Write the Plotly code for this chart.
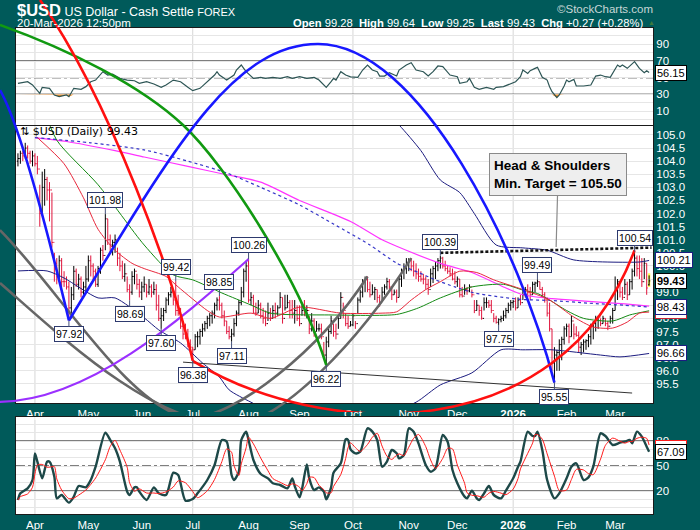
import pandas as pd
import plotly.graph_objects as go

# ---- data --------------------------------------------------------------
dates = pd.bdate_range("2025-03-21", "2026-03-20")
bars = list(range(len(dates)))

first_open = 104.0
last_open = 99.28

high = [
    104.3, 104.4, 104.4, 104.7, 104.6, 104.4, 104.4, 104.3, 104.2, 103.1,
    103.6, 103.7, 103.4, 103.2, 102.8, 100.5, 100.3, 100.4, 100.3, 99.8,
    99.6, 99.4, 99.2, 100.0, 99.9, 99.7, 99.6, 99.4, 100.0, 100.4,
    100.4, 100.1, 99.9, 100.0, 100.7, 100.8, 101.98, 101.8, 101.2, 101.0,
    101.2, 100.7, 100.5, 100.2, 100.1, 99.6, 99.3, 99.8, 99.9, 99.7,
    99.5, 99.4, 99.6, 99.3, 99.5, 99.3, 99.4, 99.3, 98.9, 98.4,
    98.4, 98.8, 99.0, 99.2, 99.1, 99.42, 98.9, 98.4, 97.9, 97.8,
    97.6, 97.2, 96.9, 97.4, 97.5, 97.6, 97.8, 97.9, 98.1, 98.2,
    98.3, 98.6, 98.8, 98.85, 98.6, 98.3, 97.9, 97.7, 97.6, 98.0,
    98.3, 98.7, 99.2, 99.9, 100.2, 100.26, 99.0, 98.9, 98.6, 98.7,
    98.6, 98.4, 98.3, 98.6, 98.4, 98.5, 98.6, 98.5, 99.0, 98.8,
    98.9, 98.9, 98.7, 98.7, 98.7, 98.5, 98.5, 98.5, 98.7, 98.5,
    98.1, 98.2, 98.0, 97.9, 97.8, 97.8, 97.1, 97.3, 97.7, 98.1,
    97.8, 97.8, 98.1, 99.0, 98.6, 98.2, 98.1, 97.9, 98.2, 97.9,
    98.8, 99.1, 99.5, 99.6, 99.6, 99.4, 99.3, 99.2, 99.1, 98.9,
    99.2, 99.3, 99.55, 99.5, 99.2, 99.1, 99.1, 99.6, 99.9, 100.1,
    100.3, 100.3, 100.3, 100.2, 100.1, 99.9, 99.8, 99.7, 99.6, 99.5,
    99.9, 100.0, 100.15, 100.3, 100.39, 100.35, 100.2, 100.0, 99.95, 99.9,
    99.8, 99.6, 99.5, 99.2, 99.3, 99.2, 99.3, 99.1, 98.7, 98.7,
    98.5, 98.45, 98.8, 98.8, 98.7, 98.7, 98.2, 98.1, 98.0, 98.1,
    98.3, 98.4, 98.6, 98.7, 98.7, 98.8, 98.8, 98.9, 99.1, 99.2,
    99.3, 99.2, 99.4, 99.4, 99.49, 99.4, 99.2, 99.0, 98.8, 98.6,
    97.6, 96.9, 96.8, 97.2, 97.3, 97.7, 97.8, 97.8, 98.1, 97.8,
    97.7, 97.5, 97.1, 97.2, 97.2, 97.4, 97.8, 97.9, 98.1, 98.1,
    98.0, 98.1, 98.0, 97.9, 98.1, 98.4, 99.6, 99.5, 99.3, 99.2,
    99.5, 99.4, 99.5, 99.9, 100.54, 100.4, 100.4, 100.3, 100.3, 100.1, 99.64,
]
low = [
    103.8, 103.9, 104.0, 104.1, 104.1, 103.9, 103.8, 103.8, 103.5, 101.5,
    102.0, 102.3, 102.5, 101.7, 100.7, 99.4, 99.3, 99.5, 99.2, 99.2,
    99.1, 97.92, 98.0, 98.7, 99.2, 99.1, 98.8, 98.9, 99.0, 99.4,
    99.6, 99.4, 99.2, 99.2, 99.7, 100.2, 100.6, 100.8, 100.5, 100.4,
    100.5, 100.0, 99.8, 99.5, 99.4, 99.0, 98.69, 98.9, 99.3, 99.1,
    98.8, 98.7, 99.0, 98.8, 98.9, 98.8, 98.9, 98.3, 97.9, 97.6,
    97.9, 98.2, 98.5, 98.8, 98.5, 98.1, 98.1, 97.6, 97.2, 97.2,
    96.9, 96.7, 96.38, 96.8, 96.9, 97.0, 97.3, 97.5, 97.6, 97.7,
    97.8, 98.0, 98.3, 98.3, 98.0, 97.7, 97.4, 97.2, 97.11, 97.3,
    97.7, 98.1, 98.5, 98.8, 99.4, 98.6, 98.5, 98.2, 98.1, 98.2,
    98.0, 97.8, 97.7, 97.9, 97.9, 98.0, 98.0, 98.1, 98.4, 97.8,
    98.3, 98.4, 98.0, 98.0, 97.8, 97.9, 97.7, 98.1, 98.1, 98.0,
    97.4, 97.5, 97.3, 97.5, 97.5, 97.2, 96.5, 96.22, 96.9, 97.4,
    97.3, 97.2, 97.6, 98.0, 98.0, 97.7, 97.6, 97.7, 97.7, 97.6,
    98.2, 98.6, 98.8, 99.0, 99.0, 98.8, 98.9, 98.7, 98.6, 98.45,
    98.7, 98.9, 99.1, 99.1, 98.7, 98.9, 98.6, 98.8, 99.2, 99.5,
    99.7, 99.8, 99.8, 99.6, 99.5, 99.4, 99.4, 99.3, 99.1, 98.9,
    99.2, 99.35, 99.5, 99.8, 99.9, 99.9, 99.8, 99.7, 99.6, 99.45,
    99.3, 99.2, 98.8, 98.8, 98.9, 98.9, 99.0, 98.8, 98.2, 98.3,
    98.1, 97.95, 98.3, 98.4, 98.4, 98.2, 97.85, 97.8, 97.75, 97.85,
    97.9, 98.0, 98.2, 98.3, 98.4, 98.3, 98.4, 98.5, 98.7, 98.8,
    98.8, 98.7, 98.9, 99.0, 99.2, 99.1, 98.8, 98.6, 98.07, 97.5,
    96.0, 95.55, 96.0, 96.0, 96.4, 97.0, 97.3, 97.05, 97.3, 97.2,
    97.3, 96.7, 96.6, 96.7, 96.8, 96.9, 97.0, 97.2, 97.5, 97.6,
    97.7, 97.8, 97.7, 97.55, 97.8, 97.8, 98.3, 98.7, 98.8, 98.7,
    98.9, 98.7, 98.9, 99.1, 99.6, 99.6, 99.5, 99.2, 99.5, 98.9, 99.25,
]
close = [
    104.1, 104.3, 104.2, 104.5, 104.3, 104.0, 104.2, 103.9, 103.7, 102.0,
    103.0, 103.3, 102.9, 102.9, 100.9, 100.1, 99.6, 100.2, 99.4, 99.4,
    99.2, 98.4, 98.9, 99.8, 99.3, 99.5, 99.0, 99.2, 99.5, 100.2,
    100.0, 99.8, 99.3, 99.9, 100.6, 100.4, 101.8, 101.0, 100.8, 100.9,
    101.0, 100.3, 100.0, 99.6, 99.7, 99.1, 99.0, 99.6, 99.8, 99.3,
    99.0, 99.2, 99.3, 99.0, 99.2, 99.0, 99.1, 98.5, 98.0, 98.1,
    98.3, 98.7, 98.9, 99.0, 98.7, 98.3, 98.2, 97.7, 97.4, 97.4,
    97.0, 96.9, 96.8, 97.3, 97.3, 97.5, 97.6, 97.8, 98.0, 98.1,
    98.2, 98.5, 98.7, 98.5, 98.1, 97.9, 97.5, 97.3, 97.4, 97.8,
    98.2, 98.6, 99.0, 99.8, 100.0, 98.7, 98.8, 98.2, 98.2, 98.5,
    98.1, 98.0, 97.8, 98.2, 98.0, 98.3, 98.2, 98.4, 98.8, 98.0,
    98.4, 98.6, 98.3, 98.2, 98.3, 98.0, 97.8, 98.3, 98.1, 98.3,
    97.6, 97.9, 97.5, 97.6, 97.6, 97.3, 96.6, 97.1, 97.5, 97.9,
    97.5, 97.4, 98.0, 98.8, 98.3, 97.8, 97.7, 97.75, 98.1, 97.8,
    98.7, 99.0, 99.4, 99.5, 99.1, 98.9, 99.0, 99.1, 98.8, 98.6,
    99.0, 99.2, 99.4, 99.2, 98.9, 99.0, 98.8, 99.5, 99.8, 99.9,
    100.1, 100.2, 100.0, 99.8, 99.7, 99.6, 99.5, 99.5, 99.3, 99.1,
    99.7, 99.9, 100.0, 100.2, 100.3, 100.0, 99.9, 99.8, 99.7, 99.5,
    99.4, 99.5, 98.9, 98.85, 99.1, 99.05, 99.2, 98.9, 98.3, 98.5,
    98.3, 98.0, 98.6, 98.6, 98.5, 98.3, 98.0, 97.85, 97.95, 98.0,
    98.1, 98.3, 98.5, 98.6, 98.65, 98.4, 98.7, 98.6, 98.9, 99.1,
    99.0, 98.9, 99.3, 99.35, 99.4, 99.1, 98.9, 98.7, 98.2, 97.6,
    96.3, 96.6, 96.7, 97.0, 97.2, 97.6, 97.7, 97.3, 97.9, 97.4,
    97.35, 96.9, 97.0, 97.1, 97.15, 97.3, 97.7, 97.8, 98.0, 98.05,
    97.8, 98.0, 97.8, 97.7, 98.0, 98.3, 99.1, 99.4, 99.0, 98.8,
    99.3, 98.9, 99.4, 99.8, 100.3, 99.9, 99.8, 99.4, 100.1, 99.16, 99.43,
]

# overlays sampled off the chart (bar index -> value)
ma20_idx = [8, 19, 27, 33, 40, 47, 52, 61, 66, 78, 83, 96, 104, 116, 133, 150, 156, 162,
            168, 174, 182, 189, 196, 208, 219, 229, 237, 245, 251, 256, 260]
ma20_val = [104.9, 103.9, 102.6, 101.4, 100.6, 100.1, 99.9, 99.6, 99.2, 98.3, 98.05, 98.2,
            98.0, 98.43, 98.2, 98.2, 98.25, 98.7, 99.1, 99.4, 99.8, 99.75, 99.47, 99.1,
            98.7, 98.05, 97.67, 97.63, 97.86, 98.2, 98.24]
ma50_idx = [10, 16, 33, 52, 64, 72, 84, 96, 104, 129, 156, 165, 174, 187, 200, 208, 214,
            219, 226, 233, 245, 252, 260]
ma50_val = [106.2, 104.8, 103.1, 100.8, 99.66, 99.47, 98.97, 98.51, 98.2, 98.13, 98.15,
            98.4, 98.78, 99.2, 99.3, 99.08, 98.95, 98.7, 98.3, 98.0, 97.9, 98.13, 98.29]
ma150_idx = [7, 30, 52, 70, 86, 100, 116, 130, 145, 156, 165, 172, 180, 188, 200, 208,
             220, 235, 250, 260]
ma150_val = [104.9, 104.7, 104.43, 104.0, 103.55, 103.0, 102.33, 101.6, 100.8, 100.11,
             99.75, 99.47, 99.2, 98.97, 98.8, 98.72, 98.68, 98.58, 98.5, 98.43]
ma200_idx = [7, 20, 40, 52, 70, 85, 100, 116, 137, 150, 156, 174, 187, 200, 208, 220,
             235, 250, 260]
ma200_val = [104.9, 104.75, 104.4, 104.16, 103.8, 103.5, 103.2, 102.5, 101.7, 101.0,
             100.75, 100.1, 99.75, 99.2, 98.9, 98.75, 98.65, 98.55, 98.47]
band_lo_idx = [0, 12, 19, 33, 40, 52, 58, 67, 76, 83, 87, 96, 110, 130, 150, 164, 174,
               187, 199, 208, 220, 240, 248, 260]
band_lo_val = [99.81, 99.81, 99.54, 98.78, 98.78, 98.02, 97.56, 97.06, 96.3, 95.76,
               95.27, 94.8, 94.2, 94.0, 94.3, 94.8, 95.46, 95.92, 96.8, 96.8, 96.8,
               96.6, 96.53, 96.66]
band_hi_idx = [140, 150, 157, 166, 174, 182, 188, 197, 208, 218, 229, 256, 260]
band_hi_val = [106.8, 106.0, 105.38, 104.4, 103.28, 102.8, 102.0, 100.8, 100.69, 100.6,
               100.23, 100.15, 100.21]

trend_idx = [68, 253]
trend_val = [96.33, 95.15]
neck_idx = [174, 261]
neck_val = [100.5, 100.7]

peak_idx = [36, 21, 46, 59, 65, 83, 95, 88, 72, 127, 174, 198, 214, 221, 254]
peak_val = [101.98, 97.92, 98.69, 97.60, 99.42, 98.85, 100.26, 97.11, 96.38, 96.22,
            100.39, 97.75, 99.49, 95.55, 100.54]
peak_up = [True, False, False, False, True, True, True, False, False, False,
           True, False, True, False, True]

rsi_idx = [0, 4, 6, 9, 10, 13, 15, 17, 20, 21, 23, 26, 28, 30, 32, 34, 35, 37, 39, 42,
           45, 48, 50, 53, 56, 59, 61, 64, 67, 70, 72, 75, 78, 81, 82, 83, 86, 89, 90, 92,
           93, 94, 97, 100, 102, 105, 108, 111, 113, 116, 119, 122, 124, 127, 129, 130,
           131, 133, 135, 137, 140, 142, 144, 146, 148, 149, 151, 153, 156, 157, 160, 162,
           164, 167, 169, 171, 173, 175, 178, 181, 182, 185, 186, 188, 190, 193, 196, 197,
           200, 203, 205, 207, 208, 210, 211, 213, 214, 216, 218, 219, 220, 222, 223, 225,
           226, 227, 229, 230, 233, 236, 238, 240, 242, 244, 245, 247, 248, 249, 251, 252,
           254, 256, 258, 259, 260]
rsi_val = [43.3, 45.2, 41.3, 31.3, 38.5, 37.3, 29.3, 27.3, 29.3, 27.3, 37.3, 36.1, 39.3,
           45.2, 47.2, 53.2, 57.2, 53.2, 54.4, 49.2, 47.2, 46.4, 43.3, 45.2, 42.5, 38.5,
           41.3, 47.2, 45.2, 38.5, 34.5, 37.3, 45.2, 53.2, 57.2, 53.2, 47.2, 53.2, 59.2,
           65.2, 61.2, 57.2, 49.2, 50.4, 49.2, 50.4, 49.2, 51.2, 49.2, 51.2, 49.2, 50.4,
           47.2, 38.5, 45.2, 49.2, 47.2, 57.2, 53.2, 51.0, 50.4, 59.2, 65.2, 59.2, 57.2,
           52.0, 52.0, 56.0, 52.0, 59.2, 65.2, 68.0, 59.2, 57.2, 52.0, 57.2, 64.0, 63.2,
           53.2, 51.2, 43.3, 45.2, 49.2, 38.5, 36.1, 38.5, 36.1, 38.5, 39.3, 43.3, 45.2,
           51.2, 59.2, 55.2, 58.4, 61.2, 62.4, 50.4, 47.2, 39.3, 33.3, 26.1, 29.3, 40.1,
           47.2, 45.2, 48.0, 40.1, 40.1, 41.3, 52.0, 53.2, 51.2, 50.4, 55.2, 65.2, 63.2,
           65.2, 61.2, 64.0, 69.2, 61.2, 56.0, 58.4, 56.15]

stk_idx = [0, 1, 4, 6, 7, 8, 10, 12, 13, 15, 16, 18, 21, 23, 25, 28, 30, 32, 36, 38, 40,
           42, 45, 46, 48, 49, 50, 53, 56, 58, 61, 64, 66, 69, 72, 74, 78, 81, 84, 86, 88,
           89, 91, 92, 94, 95, 97, 100, 103, 105, 108, 111, 113, 114, 116, 117, 119, 120,
           122, 124, 126, 127, 129, 130, 133, 135, 136, 137, 139, 141, 144, 146, 148, 150,
           152, 154, 156, 157, 159, 161, 163, 165, 168, 170, 172, 175, 177, 179, 181, 184,
           185, 187, 189, 190, 192, 194, 196, 199, 201, 204, 206, 207, 210, 212, 213, 214,
           216, 218, 221, 223, 226, 228, 230, 233, 235, 237, 240, 242, 245, 248, 250, 252,
           253, 255, 257, 259, 260]
stk_val = [9.2, 17.2, 23.2, 33.2, 65.2, 55.2, 35.2, 55.2, 55.2, 37.2, 11.2, 15.2, 6.0,
           13.2, 26.0, 24.4, 33.2, 49.2, 90.0, 81.2, 71.2, 55.2, 19.2, 15.2, 24.4, 24.4,
           19.2, 9.2, 24.4, 17.2, 15.2, 42.0, 39.2, 8.4, 10.4, 17.2, 33.2, 51.2, 81.2,
           79.2, 39.2, 33.2, 43.2, 81.2, 91.2, 81.2, 57.2, 40.4, 35.2, 29.2, 27.2, 23.2,
           35.2, 26.0, 12.4, 22.0, 52.0, 35.2, 21.2, 24.4, 19.2, 10.0, 24.4, 42.0, 53.2,
           82.0, 81.2, 70.0, 65.2, 67.2, 95.2, 91.2, 81.2, 49.2, 55.2, 69.2, 65.2, 59.2,
           63.2, 95.2, 91.2, 77.2, 51.2, 43.2, 47.2, 87.2, 79.2, 45.2, 29.2, 13.2, 11.2,
           20.4, 11.2, 9.2, 17.2, 26.0, 15.2, 11.2, 20.4, 35.2, 49.2, 55.2, 91.2, 86.0,
           86.0, 91.2, 69.2, 33.2, 11.2, 17.2, 35.2, 49.2, 53.2, 33.2, 36.4, 49.2, 89.2,
           86.0, 75.2, 78.0, 79.2, 81.2, 77.2, 91.2, 85.2, 73.2, 67.09]

# hand-drawn arcs on the chart, cubic bezier control points in (bar, price)
arc_red_a = [(9.1, 110.15), (37.9, 106.33), (64.7, 99.46), (72, 96.38)]
arc_red_b = [(72, 96.38), (124.4, 93.36), (223.3, 92.97), (254, 100.6)]
arc_blue_a = [(-7.4, 106.71), (0.8, 105.38), (11.1, 101.75), (21, 97.92)]
arc_blue_b = [(21, 97.92), (62.2, 104.16), (87.4, 108.47), (123.6, 108.47),
              (165.6, 108.47), (206.8, 100.61), (221, 95.55)]
arc_green = [(-7.4, 109.2), (21.4, 108.24), (50.3, 106.91), (68.0, 105.38),
             (85.7, 103.85), (116.2, 99.46), (127, 96.22)]
arc_purple = [(-7.4, 94.81), (29.7, 94.88), (66.7, 97.94), (95, 100.26)]
arc_gray_a = [(-7.4, 101.37), (17.3, 99.08), (46.1, 94.5), (70.9, 94.2),
              (89.4, 94.2), (124.4, 96.79), (144, 99.6)]
arc_gray_b = [(-7.4, 99.35), (17.3, 97.36), (54.4, 94.04), (87.4, 93.93),
              (108.0, 93.93), (140.9, 97.17), (162, 100.3)]

price_ticks = [95.5, 96.0, 96.5, 97.0, 97.5, 98.0, 98.5, 99.0, 99.5, 100.0, 100.5,
               101.0, 101.5, 102.0, 102.5, 103.0, 103.5, 104.0, 104.5, 105.0]
osc_ticks = [0, 10, 20, 30, 40, 50, 60, 70, 80, 90, 100]
rsi_text = ["", "10", "", "30", "", "50", "", "70", "", "90", ""]
stk_text = ["", "", "20", "", "", "50", "", "", "80", "", ""]

# ---- geometry (pixels) -------------------------------------------------
W, H = 700, 530
LEFT, RIGHT = 16, 653
RSI_TOP, RSI_BOT = 28, 125
PR_TOP, PR_BOT = 125, 403
ST_TOP, ST_BOT = 417, 514
DRAW_BOT = 412
TEAL = "#005a5a"
FONT = "Liberation Sans, Arial, sans-serif"

XR = [-0.8, 261.6]
PR = [94.77, 105.38]
RSI_R = [-6.6, 109.5]
ST_R = [-7.6, 108.8]


def ydom(top, bot):
    return [1 - bot / H, 1 - top / H]


xdom = [LEFT / W, RIGHT / W]
ppx = (RIGHT - LEFT) / (XR[1] - XR[0])
ppy = (PR_BOT - PR_TOP) / (PR[1] - PR[0])
OX = [XR[0] - LEFT / ppx, XR[1] + (W - RIGHT) / ppx]
OY = [PR[0] - (DRAW_BOT - PR_BOT) / ppy, PR[1] + PR_TOP / ppy]

opens = [first_open] + close[:-1]
opens[-1] = last_open

month_pos = [i for i in range(1, len(dates)) if dates[i].month != dates[i - 1].month]
month_txt = ["<b>%d</b>" % dates[i].year if dates[i].month == 1 else dates[i].strftime("%b")
             for i in month_pos]
quarter_pos = [i for i in month_pos if dates[i].month in (1, 4, 7, 10)]

fig = go.Figure()

fig.add_trace(go.Ohlc(
    x=bars, open=opens, high=high, low=low, close=close,
    increasing_line_color="black", decreasing_line_color="#e0143c",
    line_width=1, tickwidth=0.45, xaxis="x", yaxis="y", hoverinfo="skip",
))


def line(x, y, color, width, dash="solid", axes=("x", "y"), shape="spline"):
    fig.add_trace(go.Scatter(
        x=x, y=y, mode="lines", xaxis=axes[0], yaxis=axes[1], hoverinfo="skip",
        line=dict(color=color, width=width, dash=dash, shape=shape, smoothing=0.7),
    ))


line(band_lo_idx, band_lo_val, "#1c1c80", 1)
line(band_hi_idx, band_hi_val, "#1c1c80", 1)
line(ma200_idx, ma200_val, "#ff33ff", 1.2)
line(ma150_idx, ma150_val, "#3535c8", 1.2, dash="dot")
line(ma50_idx, ma50_val, "#138a13", 1)
line(ma20_idx, ma20_val, "#e8283c", 1)
line(trend_idx, trend_val, "#333333", 1, shape="linear")
line(neck_idx, neck_val, "#111111", 2.6, dash="3px,2px", shape="linear")

# RSI with oversold shading
rsi_floor = [30 for _ in rsi_idx]
rsi_low = [min(v, 30) for v in rsi_val]
fig.add_trace(go.Scatter(x=rsi_idx, y=rsi_floor, mode="lines", line=dict(width=0),
                         xaxis="x2", yaxis="y2", hoverinfo="skip"))
fig.add_trace(go.Scatter(x=rsi_idx, y=rsi_low, mode="lines", line=dict(width=0),
                         fill="tonexty", fillcolor="#f0902a", xaxis="x2", yaxis="y2",
                         hoverinfo="skip"))
line(rsi_idx, rsi_val, "#2d5555", 1.2, axes=("x2", "y2"), shape="linear")

# slow stochastics, %D is the 3-sample average of %K
stk_d = pd.Series(stk_val).rolling(3, min_periods=1).mean().tolist()
line(stk_idx, stk_val, "#1d4848", 2.4, axes=("x3", "y3"), shape="spline")
line(stk_idx, stk_d, "#ff1a1a", 1, axes=("x3", "y3"), shape="spline")

fig.add_trace(go.Scatter(x=[], y=[], xaxis="x4", yaxis="y4"))

shapes = []
for xa, ya in (("x", "y"), ("x2", "y2"), ("x3", "y3")):
    shapes.append(dict(type="rect", xref=xa + " domain", yref=ya + " domain",
                       x0=0, x1=1, y0=0, y1=1, fillcolor="white", line_width=0,
                       layer="below"))
    for q in quarter_pos:
        shapes.append(dict(type="line", xref=xa, yref=ya + " domain", x0=q, x1=q,
                           y0=0, y1=1, line=dict(color="#d6d6d6", width=1), layer="below"))

for ya, lv in (("y2", (70, 30)), ("y3", (80, 20))):
    for v in lv:
        shapes.append(dict(type="line", xref=ya.replace("y", "x") + " domain", yref=ya,
                           x0=0, x1=1, y0=v, y1=v, line=dict(color="black", width=1.2),
                           layer="below"))
    shapes.append(dict(type="line", xref=ya.replace("y", "x") + " domain", yref=ya,
                       x0=0, x1=1, y0=50, y1=50,
                       line=dict(color="black", width=1.2, dash="dashdot"), layer="below"))

shapes.append(dict(type="rect", xref="x", yref="y", x0=bars[-1] - 0.5, x1=bars[-1] + 0.5,
                   y0=low[-1] - 0.05, y1=high[-1] + 0.08, fillcolor="#ffff55",
                   line_width=0, layer="below"))


def bezier(points):
    d = "M %.2f,%.3f" % points[0]
    for k in range(1, len(points), 3):
        d += " C " + " ".join("%.2f,%.3f" % p for p in points[k:k + 3])
    return d


for pts, col, wd in ((arc_gray_a, "#666666", 2.6), (arc_gray_b, "#666666", 2.6),
                     (arc_purple, "#9b30ff", 2.2), (arc_green, "#119911", 2.6),
                     (arc_blue_a, "#1818ff", 2.6), (arc_blue_b, "#1818ff", 2.6),
                     (arc_red_a, "#ff1010", 2.6), (arc_red_b, "#ff1010", 2.6)):
    shapes.append(dict(type="path", xref="x4", yref="y4", path=bezier(pts),
                       line=dict(color=col, width=wd), layer="above"))

ann = []
for i, v, up in zip(peak_idx, peak_val, peak_up):
    ann.append(dict(x=i, y=v, xref="x", yref="y", text="%.2f" % v, showarrow=True,
                    arrowhead=0, arrowwidth=1, arrowcolor="#44507a", ax=0,
                    ay=-14 if up else 14, bgcolor="white", bordercolor="#2e3a6e",
                    borderwidth=1, borderpad=1,
                    font=dict(family=FONT, size=10.5, color="black")))

ann.append(dict(x=neck_idx[0] + 47.7, y=100.72, xref="x", yref="y",
                ax=222.5, ay=103.5, axref="x", ayref="y", showarrow=True,
                arrowhead=0, arrowwidth=1.2, arrowcolor="#8a8a8a",
                text="<b>Head & Shoulders<br>Min. Target = 105.50</b>", align="left",
                bgcolor="#eeeeee", bordercolor="#8a8a8a", borderwidth=1, borderpad=4,
                font=dict(family=FONT, size=13.5, color="black")))


def side_label(y, yref, text, border, bold=False):
    ann.append(dict(x=(RIGHT + 2) / W, y=y, xref="paper", yref=yref, xanchor="left",
                    yanchor="middle", showarrow=False,
                    text="<b>%s</b>" % text if bold else text, bgcolor="white",
                    bordercolor=border, borderwidth=1, borderpad=1,
                    font=dict(family=FONT, size=11, color="black")))


side_label(rsi_val[-1], "y2", "%.2f" % rsi_val[-1], "black")
side_label(band_hi_val[-1], "y", "%.2f" % band_hi_val[-1], "#1c1c80")
side_label(ma50_val[-1], "y", "%.2f" % ma50_val[-1], "#cc2233")
side_label(ma150_val[-1], "y", "%.2f" % ma150_val[-1], "#1c1c80")
side_label(band_lo_val[-1], "y", "%.2f" % band_lo_val[-1], "#1c1c80")
side_label(close[-1], "y", "%.2f" % close[-1], "black", bold=True)
side_label(stk_val[-1] + 5, "y3", "%.2f" % stk_d[-1], "#ff1a1a")
side_label(stk_val[-1], "y3", "%.2f" % stk_val[-1], "black")


def paper_text(x, y, text, size, color="white", anchor="left"):
    ann.append(dict(x=x / W, y=1 - y / H, xref="paper", yref="paper", xanchor=anchor,
                    yanchor="middle", showarrow=False, text=text,
                    font=dict(family=FONT, size=size, color=color)))


paper_text(15, 10, "<span style='font-size:16.5px'><b>$USD</b></span> US Dollar - Cash Settle "
           "<span style='font-size:11px'>FOREX</span>", 12.5)
paper_text(15, 23, "20-Mar-2026 12:50pm", 11.5)
paper_text(655, 9, "©StockCharts.com", 11.5, color="#c6d6d6", anchor="right")
nb = "\u00a0\u00a0"
paper_text(645, 23, "<b>Open</b> %.2f%s<b>High</b> %.2f%s<b>Low</b> %.2f%s<b>Last</b> %.2f%s"
           "<b>Chg</b> +0.27 (+0.28%%)" % (last_open, nb, high[-1], nb, low[-1], nb,
                                            close[-1], nb), 11.2, anchor="right")
paper_text(646, 23, "▲", 7, color="#3d7a3d")
paper_text(18, 132, "⇅ $USD (Daily) %.2f" % close[-1], 11, color="black")
ann[-1]["font"]["family"] = "DejaVu Sans"

xcommon = dict(domain=xdom, range=XR, showgrid=False, zeroline=False, showline=True,
               mirror=True, linecolor="#1a1a1a", linewidth=1, ticks="",
               tickvals=month_pos, ticktext=month_txt,
               tickfont=dict(family=FONT, size=11.5, color="white"), fixedrange=True)
ycommon = dict(side="right", showgrid=True, gridcolor="#e6e6e6", zeroline=False,
               showline=True, mirror=True, linecolor="#1a1a1a", linewidth=1, ticks="",
               tickfont=dict(family=FONT, size=11.5, color="white"), fixedrange=True)

fig.update_layout(
    width=W, height=H, margin=dict(l=0, r=0, t=0, b=0),
    paper_bgcolor=TEAL, plot_bgcolor="rgba(0,0,0,0)", showlegend=False,
    hovermode=False, font=dict(family=FONT),
    xaxis=dict(xcommon, anchor="y", mirror=False, rangeslider=dict(visible=False)),
    yaxis=dict(ycommon, domain=ydom(PR_TOP, PR_BOT), range=PR, anchor="x",
               tickvals=price_ticks, tickformat=".1f"),
    xaxis2=dict(xcommon, anchor="y2", showticklabels=False),
    yaxis2=dict(ycommon, domain=ydom(RSI_TOP, RSI_BOT), range=RSI_R, anchor="x2",
                tickvals=osc_ticks, ticktext=rsi_text),
    xaxis3=dict(xcommon, anchor="y3"),
    yaxis3=dict(ycommon, domain=ydom(ST_TOP, ST_BOT), range=ST_R, anchor="x3",
                tickvals=osc_ticks, ticktext=stk_text),
    xaxis4=dict(domain=[0, 1], range=OX, anchor="y4", visible=False, fixedrange=True),
    yaxis4=dict(domain=[1 - DRAW_BOT / H, 1], range=OY, anchor="x4", visible=False,
                fixedrange=True),
    shapes=shapes, annotations=ann,
)

fig.write_html("out.html", config={"displayModeBar": False},
               post_script="document.body.style.margin='0';")
